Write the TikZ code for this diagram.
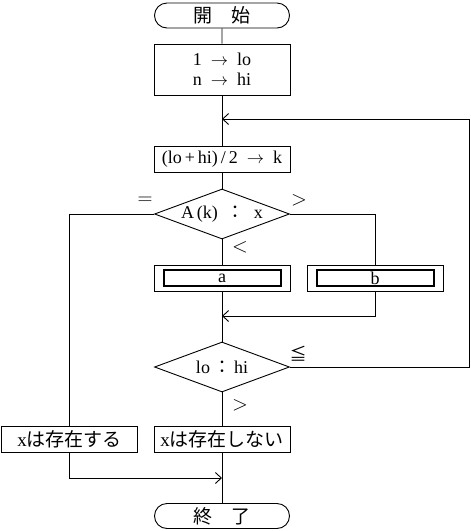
\documentclass[tikz,border=0pt]{standalone}
\usepackage{fontspec}
\setmainfont{Liberation Serif}
\newfontfamily\cjk{Noto Sans CJK JP}
\usetikzlibrary{arrows.meta,shapes.geometric,shapes.misc}

\tikzset{
  line/.style={line width=0.9pt},
  arr/.style={line, -{Straight Barb[length=6pt, width=11pt]}},
  txt/.style={font=\fontsize{18}{21}\selectfont},
  jtxt/.style={font=\fontsize{19}{22}\selectfont\cjk},
  term/.style={draw, line, rounded rectangle, minimum width=135pt, minimum height=25pt, inner sep=0pt, jtxt},
  proc/.style={draw, line, rectangle, minimum width=136pt, minimum height=26pt, inner sep=0pt, txt},
  subproc/.style={draw, line width=2pt, rectangle, minimum width=117pt, minimum height=16pt, inner sep=0pt, txt},
  decide/.style={draw, line, diamond, shape aspect=2.7, minimum width=135pt, minimum height=50pt, inner sep=0pt, txt},
  lbl/.style={font=\fontsize{22}{24}\selectfont}
}

\begin{document}
\begin{tikzpicture}[x=1pt, y=-1pt]

  \useasboundingbox (0,0) rectangle (471,531);

  % --- Nodes ---
  \node[term] (start) at (222,15.5) {開\hspace{1em}始};
  \node[proc, minimum height=51pt, align=center] (init) at (222,69.5) {1 \ $\rightarrow$ \ lo\\[-1pt] n \ $\rightarrow$ \ hi};
  \node[proc] (calc) at (222,159) {(lo\,+\,hi)\,/\,2 \ $\rightarrow$ \ k};
  \node[decide] (cmp) at (222,214) {A\,(k) \ {\cjk ：} \ x};
  \node[proc] (proca) at (222,278) {};
  \node[subproc] at (proca) {a};
  \node[proc] (procb) at (375,278) {};
  \node[subproc] at (procb) {b};
  \node[decide] (range) at (222,367) {lo\,{\cjk ：}\,hi};
  \node[proc, jtxt] (found) at (69.5,439) {{\rmfamily x}は存在する};
  \node[proc, jtxt] (notfound) at (222,439) {{\rmfamily x}は存在しない};
  \node[term] (end) at (222,516) {終\hspace{1em}了};

  % --- Joints ---
  \coordinate (j1) at (222,119);
  \coordinate (back) at (469,119);
  \coordinate (j2) at (222,316);
  \coordinate (j3) at (222,478);

  % --- Connectors ---
  \draw[line] (start) -- (init);
  \draw[line] (init) -- (calc);
  \draw[line] (calc) -- (cmp);
  \draw[line] (cmp.west) -| (found.north);
  \draw[line] (cmp.east) -| (procb.north);
  \draw[line] (cmp) -- (proca);
  \draw[line] (proca) -- (range);
  \draw[arr] (procb.south) |- (j2);
  \draw[arr] (range.east) -| (back) -- (j1);
  \draw[line] (range) -- (notfound);
  \draw[arr] (found.south) |- (j3);
  \draw[line] (notfound) -- (end);

  % --- Branch labels ---
  \node[lbl] (leq) at (145,201) {$=$};
  \node[lbl] (lgt) at (299,200) {$>$};
  \node[lbl] (llt) at (240,247) {$<$};
  \node[lbl, font=\fontsize{17}{20}\selectfont\cjk] (lle) at (298,354) {≦};
  \node[lbl] (lgt2) at (240,405) {$>$};

\end{tikzpicture}
\end{document}
